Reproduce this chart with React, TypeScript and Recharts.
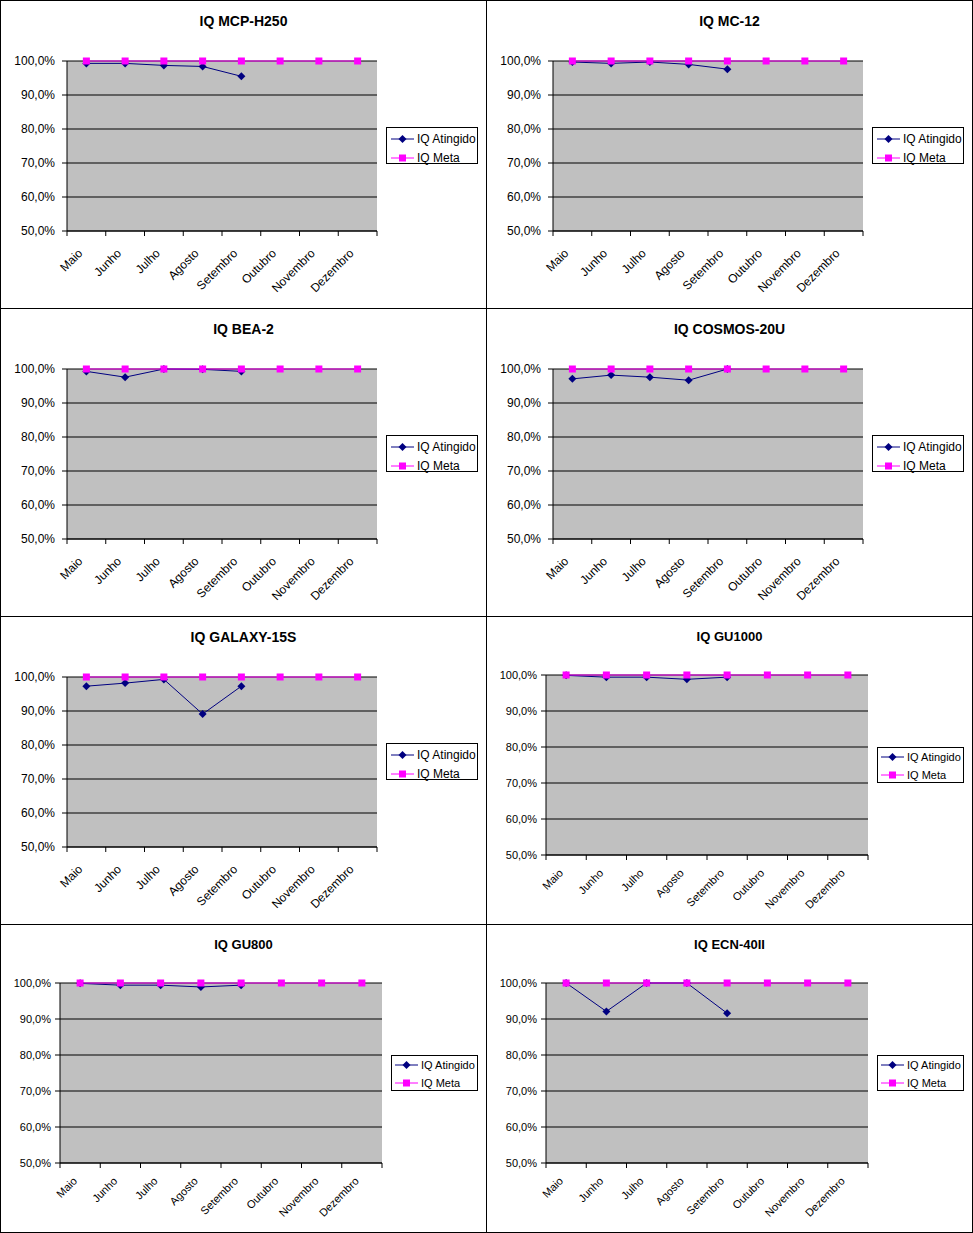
import React from 'react'
import { LineChart, Line, XAxis, YAxis, CartesianGrid, Legend } from 'recharts'

// categories + values
const months = ['Maio', 'Junho', 'Julho', 'Agosto', 'Setembro', 'Outubro', 'Novembro', 'Dezembro']
const yTicks = [50, 60, 70, 80, 90, 100]
const metaValues = [100, 100, 100, 100, 100, 100, 100, 100]

const mcpH250 = [99.3, 99.3, 98.7, 98.4, 95.5]
const mc12 = [99.7, 99.3, 99.7, 99.0, 97.6]
const bea2 = [99.3, 97.6, 100, 99.9, 99.3]
const cosmos20u = [97.1, 98.2, 97.6, 96.7, 100]
const galaxy15s = [97.3, 98.2, 99.3, 89.1, 97.3]
const gu1000 = [99.9, 99.4, 99.4, 98.8, 99.4]
const gu800 = [99.9, 99.4, 99.4, 98.9, 99.4]
const ecn40ii = [100, 92.1, 100, 100, 91.6]

const NAVY = '#000080'
const MAGENTA = '#FF00FF'
const FONT = '"Liberation Sans", Arial, sans-serif'

const layoutA = {
  margin: { top: 60, right: 109, left: 6, bottom: 17 },
  yWidth: 60,
  font: 12,
  title: 14,
  titleTop: 12,
  tickMargin: 7,
  labelDx: -6,
  labelDy: 8,
  legend: { left: 385, top: 126, width: 92, height: 37, padLeft: 4, row: 19, padTop: 1 },
}

const layoutB = {
  margin: { top: 58, right: 104, left: 0, bottom: 9 },
  yWidth: 59,
  font: 11,
  title: 13,
  titleTop: 12,
  tickMargin: 4,
  labelDx: -5,
  labelDy: 7,
  legend: { left: 390, top: 130, width: 87, height: 36, padLeft: 3, row: 18, padTop: 0 },
}

const charts = [
  { title: 'IQ MCP-H250', values: mcpH250, layout: layoutA },
  { title: 'IQ MC-12', values: mc12, layout: layoutA },
  { title: 'IQ BEA-2', values: bea2, layout: layoutA },
  { title: 'IQ COSMOS-20U', values: cosmos20u, layout: layoutA },
  { title: 'IQ GALAXY-15S', values: galaxy15s, layout: layoutA },
  { title: 'IQ GU1000', values: gu1000, layout: layoutB },
  { title: 'IQ GU800', values: gu800, layout: layoutB },
  { title: 'IQ ECN-40II', values: ecn40ii, layout: layoutB },
]

const PANEL_W = 485
const PANEL_H = 307

const fmtPct = (v: number) => v.toFixed(1).replace('.', ',') + '%'

function Diamond(props: any) {
  const { cx, cy } = props
  if (cx == null || cy == null || props.value == null) return <g />
  return <polygon points={`${cx},${cy - 4} ${cx + 4},${cy} ${cx},${cy + 4} ${cx - 4},${cy}`} fill={NAVY} />
}

function Square(props: any) {
  const { cx, cy } = props
  if (cx == null || cy == null) return <g />
  return <rect x={cx - 3.5} y={cy - 3.5} width={7} height={7} fill={MAGENTA} />
}

function makeTick(halfBand: number, layout: any) {
  return (props: any) => {
    const { x, y, payload } = props
    const i = payload.value
    if (i >= months.length) return <g />
    const ax = x + halfBand + layout.labelDx
    const ay = y + layout.labelDy
    return (
      <text
        x={ax}
        y={ay}
        dy="0.35em"
        textAnchor="end"
        transform={`rotate(-45, ${ax}, ${ay})`}
        fontSize={layout.font}
        fontFamily={FONT}
        fill="#000"
      >
        {months[i]}
      </text>
    )
  }
}

function LegendBox({ lg, fontSize }: { lg: any; fontSize: number }) {
  const items = [
    { name: 'IQ Atingido', color: NAVY, kind: 'diamond' },
    { name: 'IQ Meta', color: MAGENTA, kind: 'square' },
  ]
  return (
    <div
      style={{
        boxSizing: 'border-box',
        width: lg.width,
        height: lg.height,
        border: '1px solid #000',
        background: '#fff',
        paddingLeft: lg.padLeft,
        paddingTop: lg.padTop,
        fontFamily: FONT,
        fontSize,
        color: '#000',
      }}
    >
      {items.map((it) => (
        <div key={it.name} style={{ display: 'flex', alignItems: 'center', height: lg.row, whiteSpace: 'nowrap' }}>
          <svg width={23} height={10} style={{ display: 'block' }}>
            <line x1={0} y1={5} x2={23} y2={5} stroke={it.color} strokeWidth={1} />
            {it.kind === 'diamond' ? (
              <polygon points="11.5,1 15.5,5 11.5,9 7.5,5" fill={it.color} />
            ) : (
              <rect x={8} y={1.5} width={7} height={7} fill={it.color} />
            )}
          </svg>
          <span style={{ marginLeft: 3 }}>{it.name}</span>
        </div>
      ))}
    </div>
  )
}

function Panel({ title, values, layout }: any) {
  const data = months.map((m, i) => ({
    pos: i + 0.5,
    month: m,
    atingido: i < values.length ? values[i] : null,
    meta: metaValues[i],
  }))
  const plotW = PANEL_W - layout.margin.left - layout.yWidth - layout.margin.right
  const halfBand = plotW / months.length / 2
  const lg = layout.legend
  return (
    <div style={{ position: 'relative', width: PANEL_W, height: PANEL_H, background: '#fff' }}>
      <div
        style={{
          position: 'absolute',
          left: 0,
          width: PANEL_W,
          top: layout.titleTop,
          textAlign: 'center',
          fontFamily: FONT,
          fontWeight: 'bold',
          fontSize: layout.title,
          lineHeight: `${layout.title + 2}px`,
        }}
      >
        {title}
      </div>
      <LineChart width={PANEL_W} height={PANEL_H} data={data} margin={layout.margin}>
        <CartesianGrid vertical={false} stroke="#000" fill="#C0C0C0" fillOpacity={1} />
        <XAxis
          dataKey="pos"
          type="number"
          domain={[0, months.length]}
          ticks={months.map((_, i) => i).concat([months.length])}
          interval={0}
          height={60}
          tickSize={5}
          tickMargin={layout.tickMargin}
          stroke="#000"
          axisLine={{ stroke: '#000' }}
          tickLine={{ stroke: '#000' }}
          tick={makeTick(halfBand, layout)}
        />
        <YAxis
          type="number"
          domain={[50, 100]}
          ticks={yTicks}
          interval={0}
          width={layout.yWidth}
          tickSize={5}
          tickMargin={layout.tickMargin}
          axisLine={{ stroke: '#000' }}
          tickLine={{ stroke: '#000' }}
          tick={{ fill: '#000', fontSize: layout.font, fontFamily: FONT }}
          tickFormatter={fmtPct}
        />
        <Legend
          layout="vertical"
          align="center"
          verticalAlign="middle"
          wrapperStyle={{ left: lg.left, top: lg.top, width: lg.width, height: lg.height }}
          content={() => <LegendBox lg={lg} fontSize={layout.font} />}
        />
        <Line
          type="linear"
          dataKey="atingido"
          name="IQ Atingido"
          stroke={NAVY}
          strokeWidth={1}
          dot={<Diamond />}
          activeDot={false}
          isAnimationActive={false}
        />
        <Line
          type="linear"
          dataKey="meta"
          name="IQ Meta"
          stroke={MAGENTA}
          strokeWidth={1}
          dot={<Square />}
          activeDot={false}
          isAnimationActive={false}
        />
      </LineChart>
    </div>
  )
}

export default function App() {
  return (
    <div
      style={{
        position: 'absolute',
        left: 0,
        top: 0,
        width: 973,
        height: 1233,
        background: '#000',
      }}
    >
      {charts.map((c, idx) => {
        const col = idx % 2
        const row = Math.floor(idx / 2)
        return (
          <div key={c.title} style={{ position: 'absolute', left: col * 486 + 1, top: row * 308 + 1 }}>
            <Panel {...c} />
          </div>
        )
      })}
    </div>
  )
}
